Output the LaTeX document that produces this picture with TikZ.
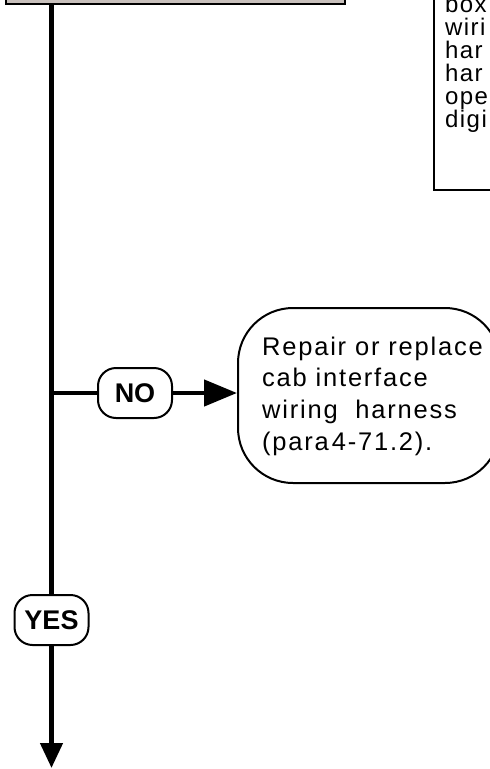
\documentclass[tikz,border=0pt]{standalone}
\usepackage{fontspec}
\setmainfont{Liberation Sans}
\newfontfamily\lsfont[LetterSpace=7]{Liberation Sans}
\newfontfamily\notefont[LetterSpace=6]{Liberation Sans}
\usetikzlibrary{arrows.meta}
\definecolor{boxgray}{RGB}{200,192,188}
\begin{document}
\begin{tikzpicture}[x=1pt,y=-1pt,
  conn/.style={line width=4.5pt},
  boxline/.style={draw, line width=2pt, inner sep=0pt},
  oval/.style={boxline, rounded corners=18pt, minimum width=74pt, minimum height=50pt, font=\fontsize{27}{30}\selectfont\bfseries},
  bodytext/.style={anchor=base west, inner sep=0pt, font=\lsfont\fontsize{25.5}{31.7}\selectfont},
  notetext/.style={anchor=base west, inner sep=0pt, font=\notefont\fontsize{24}{23}\selectfont}]
\useasboundingbox (0,0) rectangle (490,769);
\clip (0,0) rectangle (490,769);
% partial boxes at the top
\node[boxline, fill=boxgray, minimum width=339pt, minimum height=60pt, anchor=south west] (topbox) at (5,5) {};
\node[boxline, minimum width=120pt, minimum height=250pt, anchor=south west] (note) at (433,191) {};
\node[notetext] (n1) at (445,12) {box};
\node[notetext] (n2) at (445,35) {wiri};
\node[notetext] (n3) at (445,58) {har};
\node[notetext] (n4) at (445,81) {har};
\node[notetext] (n5) at (445,104) {ope};
\node[notetext] (n6) at (445,127) {digi};
% decision labels
\node[oval] (no) at (135,393) {NO};
\node[oval] (yes) at (51.5,620) {YES};
% repair box
\node[boxline, rounded corners=55pt, minimum width=262pt, minimum height=175pt] (repair) at (369,395.5) {};
\node[bodytext] (r1) at (262,355) {Repair or replace};
\node[bodytext] (r2) at (262,386.7) {cab interface};
\node[bodytext] (r3) at (262,418.4) {wiring\ \ harness};
\node[bodytext] (r4) at (262,450) {(para\kern3pt 4-71.2).};
% connectors
\coordinate (br) at (51.5,393);
\coordinate (end) at (51.5,768);
\draw[conn] (topbox.south -| yes.north) -- (yes.north);
\draw[conn] (br) -- (no.west);
\draw[conn, -{Triangle[length=33pt,width=26pt]}] (no.east) -- (no.east -| repair.west);
\draw[conn, -{Triangle[length=25pt,width=22pt]}] (yes.south) -- (end);
\end{tikzpicture}
\end{document}
